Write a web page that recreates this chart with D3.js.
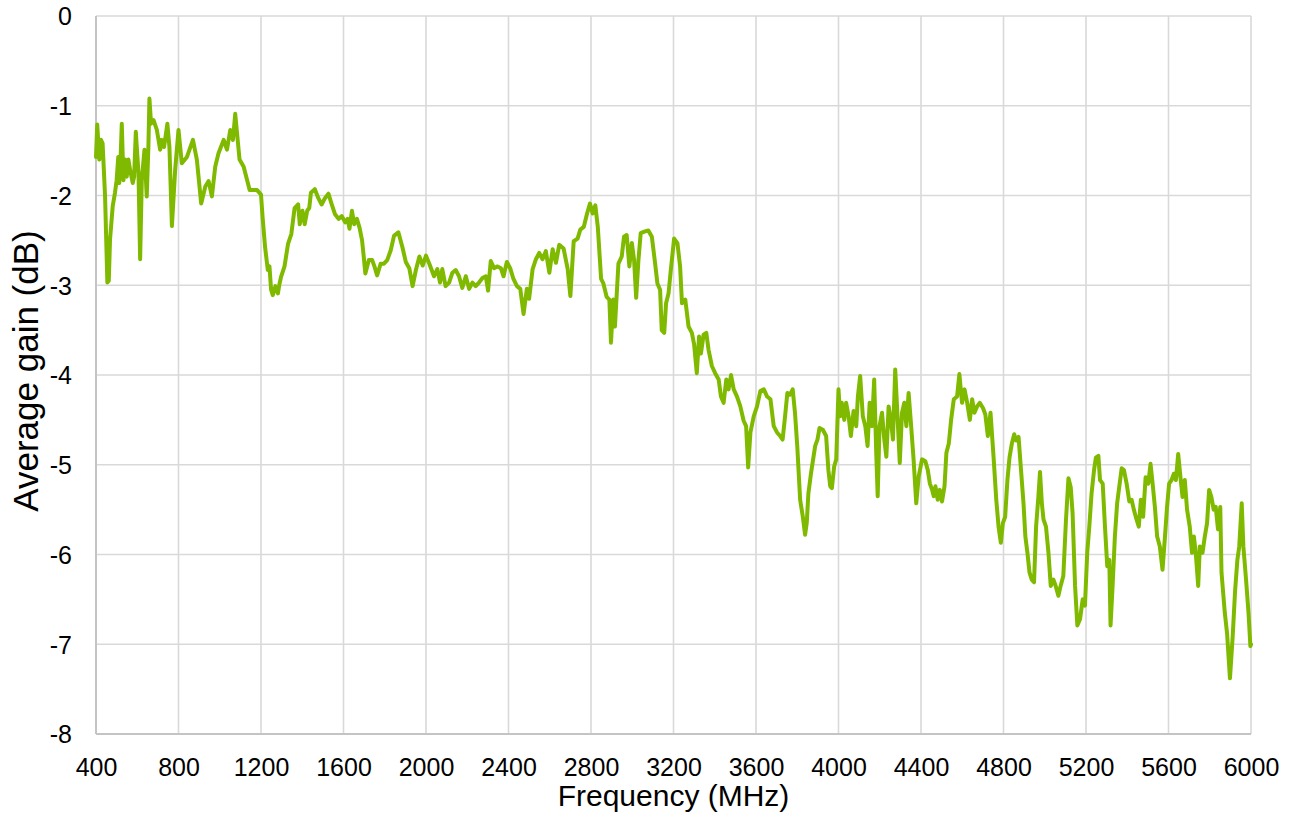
<!DOCTYPE html>
<html>
<head>
<meta charset="utf-8">
<script src="https://cdn.jsdelivr.net/npm/d3@7"></script>
<style>
  html, body { margin: 0; padding: 0; background: #ffffff; }
  svg { display: block; }
  text { font-family: "Liberation Sans", Arial, sans-serif; fill: #000; }
</style>
</head>
<body>
<svg id="chart" width="1298" height="821"></svg>
<script>
// ---- data ----
const xTicks = [400, 800, 1200, 1600, 2000, 2400, 2800, 3200, 3600, 4000, 4400, 4800, 5200, 5600, 6000];
const yTicks = [0, -1, -2, -3, -4, -5, -6, -7, -8];

const freqMHz = [
  400,406,416,424,432,444,455,462,468,481,492,500,508,513,520,525,533,541,549,557,565,578,585,593,606,614,622,635,646,654,659,667,679,695,711,719,730,746,756,768,784,800,816,841,870,889,910,930,946,962,978,994,1019,1035,1051,1064,1075,1096,1116,1145,1181,
  1200,1208,1220,1233,1241,1249,1257,1270,1282,1290,1298,1314,1331,1347,1363,1380,1388,1401,1412,1424,1434,1442,1461,1478,1494,1510,1527,1543,1559,1576,1592,1608,1620,1629,1641,1652,1665,1678,1690,1698,1706,1723,1739,1750,1763,1780,1796,1812,1829,1845,1866,1886,1902,1919,1935,1951,1968,1984,2000,
  2016,2039,2055,2068,2079,2095,2112,2128,2144,2160,2176,2193,2209,2225,2241,2257,2274,2290,2301,2314,2330,2347,2363,2376,2392,2408,2424,2441,2457,2473,2489,2500,2517,2533,2549,2565,2581,2598,2614,2630,2646,2667,2687,2700,2716,2735,2748,2765,2781,2795,2808,2821,2833,2849,
  2860,2876,2889,2897,2908,2916,2933,2949,2960,2973,2986,2998,3009,3019,3030,3041,3062,3078,3095,3111,3122,3135,3143,3155,3164,3176,3187,3203,3219,3232,3241,3257,3273,3289,3300,3313,3324,3333,3346,3359,3370,3386,3402,3419,3430,3443,3456,3467,3479,3492,3508,3524,3540,3552,3562,3573,3589,3605,3621,3638,3654,3670,3686,3702,
  3717,3729,3741,3752,3765,3778,3789,3800,3814,3827,3838,3846,3854,3867,3879,3887,3898,3908,3924,3940,3951,3960,3968,3979,3989,4000,4008,4016,4028,4037,4049,4060,4073,4086,4094,4105,4118,4130,4141,4151,4162,4173,4183,4190,4199,4211,4222,4232,4243,4254,4264,4275,4287,4297,4308,4319,4329,4340,4351,4364,4377,4389,4405,4421,4433,4443,4454,4462,4470,4481,4491,4502,4514,4523,4535,4546,4559,4575,4586,4599,4611,4624,4637,4648,4659,4672,4685,4701,4712,4724,4737,
  4752,4765,4776,4787,4797,4808,4819,4829,4840,4852,4861,4873,4884,4897,4906,4916,4926,4937,4948,4958,4969,4977,4986,4994,5006,5018,5029,5042,5053,5066,5077,5090,5103,5115,5126,5135,5147,5158,5171,5184,5195,5206,5216,5227,5239,5248,5260,5268,5281,5292,5303,5313,5319,5329,5340,5351,5361,5373,5384,5397,5410,5421,5432,5445,5456,5466,5477,5489,5502,5513,5523,5534,5545,5558,5571,5582,5593,5603,5615,5626,5636,5647,5658,5668,5679,5690,5703,5714,5723,5732,5744,5752,5765,5776,5787,5797,5808,5819,5829,5840,5851,
  5857,5873,5884,5898,5911,5923,5934,5943,5955,5963,5976,5988,5997,6000
];

const gainDb = [
  -1.57,-1.21,-1.60,-1.38,-1.42,-2.01,-2.97,-2.95,-2.49,-2.12,-1.97,-1.83,-1.57,-1.86,-1.53,-1.20,-1.83,-1.60,-1.79,-1.60,-1.71,-1.86,-1.79,-1.29,-1.75,-2.71,-1.83,-1.49,-2.01,-1.46,-0.92,-1.20,-1.16,-1.27,-1.49,-1.38,-1.46,-1.20,-1.46,-2.34,-1.71,-1.27,-1.64,-1.57,-1.38,-1.60,-2.09,-1.90,-1.84,-2.01,-1.68,-1.53,-1.38,-1.49,-1.27,-1.38,-1.09,-1.60,-1.68,-1.94,-1.94,
  -1.99,-2.25,-2.58,-2.83,-2.79,-3.05,-3.11,-3.01,-3.09,-2.98,-2.90,-2.79,-2.54,-2.43,-2.14,-2.10,-2.32,-2.17,-2.32,-2.17,-2.14,-1.97,-1.93,-2.03,-2.10,-2.03,-1.98,-2.10,-2.21,-2.26,-2.23,-2.30,-2.26,-2.37,-2.17,-2.32,-2.26,-2.36,-2.50,-2.68,-2.87,-2.72,-2.72,-2.79,-2.89,-2.76,-2.76,-2.72,-2.61,-2.45,-2.41,-2.58,-2.74,-2.81,-3.01,-2.83,-2.68,-2.78,-2.67,
  -2.76,-2.90,-2.82,-2.97,-2.82,-3.01,-2.97,-2.86,-2.83,-2.90,-3.03,-2.90,-3.04,-2.97,-3.01,-2.97,-2.92,-2.90,-3.06,-2.73,-2.81,-2.79,-2.81,-2.90,-2.74,-2.81,-2.93,-3.01,-3.04,-3.32,-3.04,-3.15,-2.82,-2.71,-2.64,-2.71,-2.62,-2.86,-2.60,-2.75,-2.55,-2.59,-2.82,-3.12,-2.51,-2.48,-2.38,-2.35,-2.20,-2.09,-2.20,-2.11,-2.35,-2.93,
  -2.98,-3.13,-3.16,-3.64,-3.16,-3.46,-2.76,-2.68,-2.46,-2.44,-2.79,-2.53,-2.72,-3.14,-2.72,-2.42,-2.40,-2.39,-2.46,-2.76,-2.98,-3.05,-3.50,-3.53,-3.20,-3.09,-2.83,-2.48,-2.53,-2.79,-3.20,-3.16,-3.46,-3.53,-3.66,-3.98,-3.57,-3.76,-3.55,-3.53,-3.72,-3.90,-3.98,-4.05,-4.24,-4.31,-4.05,-4.16,-4.00,-4.16,-4.24,-4.35,-4.51,-4.57,-5.03,-4.64,-4.46,-4.35,-4.18,-4.16,-4.24,-4.27,-4.57,-4.64,
  -4.68,-4.72,-4.46,-4.20,-4.22,-4.16,-4.42,-4.79,-5.39,-5.58,-5.78,-5.65,-5.32,-5.09,-4.91,-4.79,-4.72,-4.59,-4.61,-4.68,-5.06,-5.24,-5.26,-5.02,-4.94,-4.16,-4.46,-4.31,-4.50,-4.31,-4.46,-4.68,-4.40,-4.57,-4.24,-4.01,-4.46,-4.57,-4.79,-4.31,-4.57,-4.05,-4.87,-5.35,-4.57,-4.42,-4.72,-4.91,-4.35,-4.50,-4.72,-3.94,-4.50,-4.98,-4.42,-4.31,-4.57,-4.20,-4.53,-4.94,-5.43,-5.13,-4.94,-4.96,-5.06,-5.21,-5.28,-5.35,-5.24,-5.39,-5.28,-5.41,-5.24,-4.87,-4.76,-4.50,-4.27,-4.24,-3.99,-4.31,-4.16,-4.31,-4.50,-4.27,-4.42,-4.35,-4.31,-4.37,-4.44,-4.68,-4.42,
  -4.92,-5.39,-5.69,-5.87,-5.65,-5.58,-5.17,-4.92,-4.77,-4.66,-4.73,-4.69,-5.03,-5.43,-5.80,-5.98,-6.20,-6.28,-6.31,-5.69,-5.36,-5.08,-5.43,-5.61,-5.69,-5.98,-6.35,-6.28,-6.35,-6.46,-6.35,-6.24,-5.61,-5.15,-5.25,-5.54,-6.35,-6.79,-6.72,-6.50,-6.57,-5.98,-5.69,-5.32,-5.06,-4.92,-4.90,-5.17,-5.21,-5.69,-6.13,-6.06,-6.79,-6.35,-5.80,-5.43,-5.25,-5.04,-5.06,-5.21,-5.41,-5.39,-5.50,-5.61,-5.69,-5.39,-5.58,-5.14,-5.21,-4.99,-5.21,-5.47,-5.80,-5.91,-6.17,-5.83,-5.47,-5.21,-5.17,-5.10,-5.17,-4.88,-5.14,-5.36,-5.17,-5.50,-5.69,-5.98,-5.80,-5.98,-6.35,-5.91,-5.98,-5.80,-5.65,-5.28,-5.36,-5.50,-5.47,-5.72,-5.47,
  -6.20,-6.65,-6.88,-7.38,-6.92,-6.40,-6.06,-5.91,-5.43,-5.91,-6.28,-6.65,-7.02,-7.00
];

const xTitle = "Frequency (MHz)";
const yTitle = "Average gain (dB)";

// ---- layout ----
const mLeft = 96, mRight = 1251, mTop = 16, mBottom = 734;
const font = '"Liberation Sans", Arial, sans-serif';

const svg = d3.select("#chart");
const x = d3.scaleLinear().domain([400, 6000]).range([mLeft, mRight]);
const y = d3.scaleLinear().domain([-8, 0]).range([mBottom, mTop]);

// gridlines
const grid = svg.append("g");
grid.selectAll("line.v").data(xTicks).enter().append("line").attr("class", "v")
  .attr("x1", d => x(d)).attr("x2", d => x(d))
  .attr("y1", mTop).attr("y2", mBottom)
  .attr("stroke", "#d9d9d9").attr("stroke-width", 1.6);
grid.selectAll("line.h").data(yTicks).enter().append("line").attr("class", "h")
  .attr("x1", mLeft).attr("x2", mRight)
  .attr("y1", d => y(d)).attr("y2", d => y(d))
  .attr("stroke", "#d9d9d9").attr("stroke-width", 1.6);

// axis lines
svg.append("line").attr("x1", mLeft).attr("x2", mLeft).attr("y1", mTop).attr("y2", mBottom)
  .attr("stroke", "#c4c4c4").attr("stroke-width", 2);
svg.append("line").attr("x1", mLeft).attr("x2", mRight).attr("y1", mBottom).attr("y2", mBottom)
  .attr("stroke", "#c4c4c4").attr("stroke-width", 2);

// axes via d3 (labels only)
const xAxis = d3.axisBottom(x).tickValues(xTicks).tickSize(0).tickPadding(0).tickFormat(d3.format("d"));
const gx = svg.append("g").attr("transform", `translate(0,${mBottom})`).call(xAxis);
gx.select(".domain").remove();
gx.selectAll("text").attr("font-size", 25).attr("dy", null).attr("y", 42)
  .style("font-family", font).attr("fill", "#000");

const yAxis = d3.axisLeft(y).tickValues(yTicks).tickSize(0).tickPadding(24)
  .tickFormat(d => String(d));
const gy = svg.append("g").attr("transform", `translate(${mLeft},0)`).call(yAxis);
gy.select(".domain").remove();
gy.selectAll("text").attr("font-size", 25).attr("dy", "0.35em")
  .style("font-family", font).attr("fill", "#000");
svg.selectAll(".tick line").remove();
svg.selectAll("g").attr("font-family", null);

// data line
const n = Math.min(freqMHz.length, gainDb.length);
const pts = d3.range(n).map(i => [freqMHz[i], gainDb[i]]);
svg.append("path")
  .datum(pts)
  .attr("fill", "none")
  .attr("stroke", "#7fba00")
  .attr("stroke-width", 4)
  .attr("stroke-linejoin", "round")
  .attr("stroke-linecap", "round")
  .attr("d", d3.line().x(d => x(d[0])).y(d => y(d[1])));

// titles
svg.append("text").attr("x", (mLeft + mRight) / 2).attr("y", 806)
  .attr("text-anchor", "middle").attr("font-size", 30).style("font-family", font).text(xTitle);
svg.append("text")
  .attr("transform", `translate(38,${(mTop + mBottom) / 2 - 4}) rotate(-90)`)
  .attr("text-anchor", "middle").attr("font-size", 35).style("font-family", font).text(yTitle);
</script>
</body>
</html>
